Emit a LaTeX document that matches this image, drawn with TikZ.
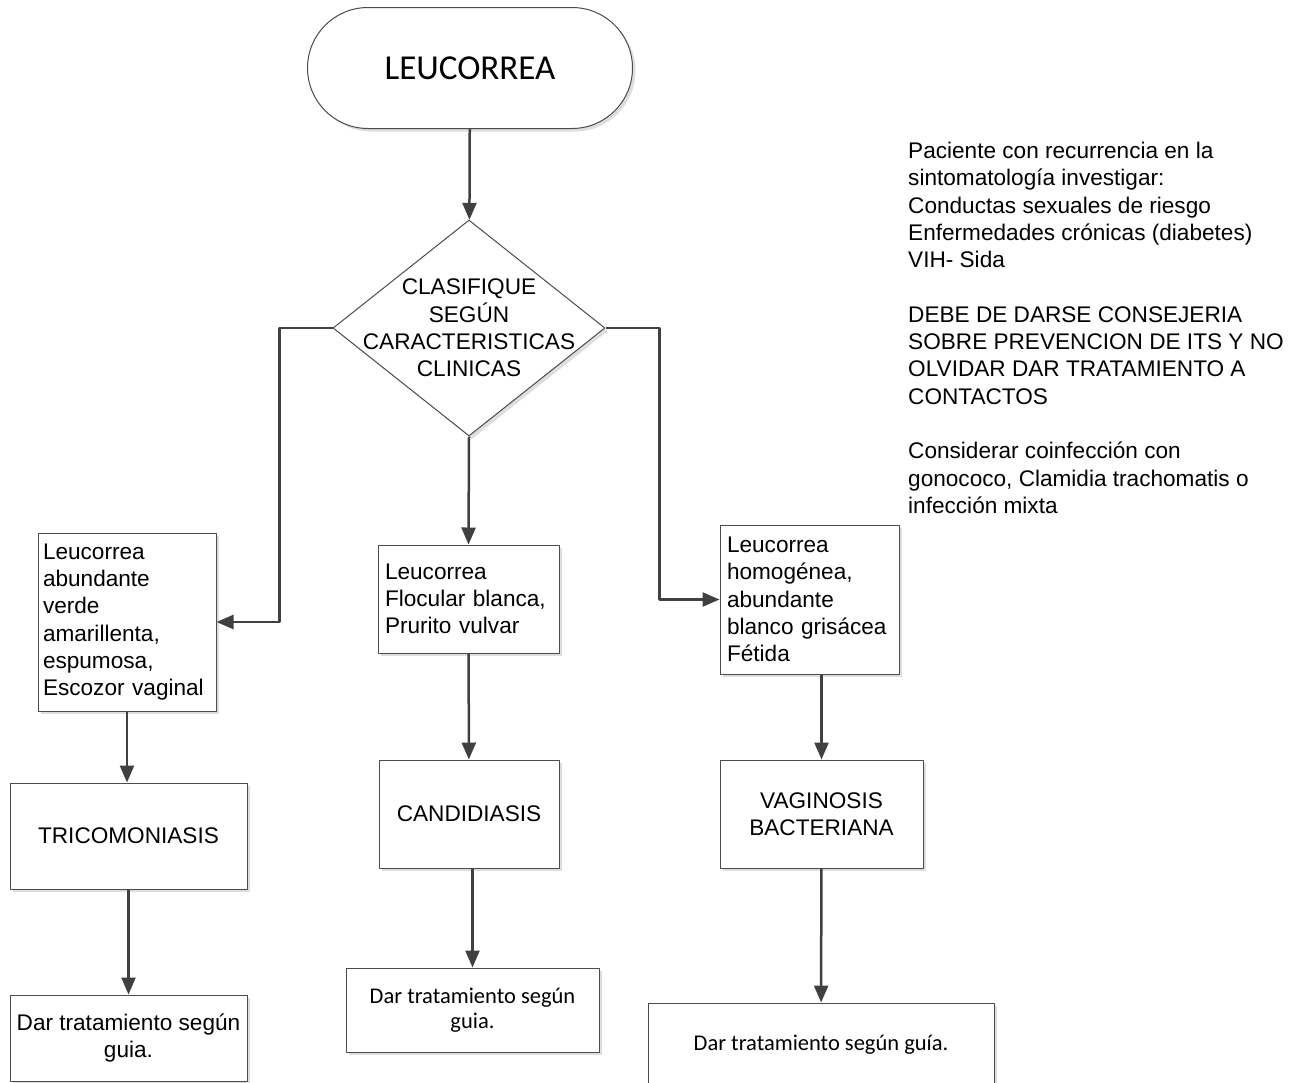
\documentclass[tikz,border=0pt]{standalone}
\usepackage{fontspec}
\setmainfont{Liberation Sans}
\newfontfamily\calibri{Carlito}
\usepackage{tikz}
\usetikzlibrary{arrows.meta,shapes.geometric,shapes.misc,shadows,calc}
\definecolor{linea}{HTML}{404040}

\begin{document}
\begin{tikzpicture}[line cap=round,line join=round,x=1pt,y=-1pt,
  box/.style={draw=black!70,line width=1pt,fill=white,inner sep=0pt,
    drop shadow={shadow xshift=3pt,shadow yshift=-3pt,fill=black!13,opacity=1}},
  txt/.style={font=\fontsize{22.6}{27.3}\selectfont},
  cal/.style={font=\calibri\fontsize{22.5}{25.5}\selectfont},
  flecha/.style={draw=linea,line width=2.5pt,line cap=butt,-{Triangle[length=17pt,width=14pt]}}]
\useasboundingbox (0,0) rectangle (1308,1082);
% inicio y decision
\node[box,rounded rectangle,minimum width=325pt,minimum height=121pt,font=\calibri\fontsize{35}{42}\selectfont] (leuc) at (470,68) {LEUCORREA};
\node[box,diamond,minimum width=272pt,minimum height=216pt,
  label={[txt,align=center]center:CLASIFIQUE\\SEGÚN\\CARACTERISTICAS\\CLINICAS}] (clas) at (469,328) {};
% sintomas
\node[box,txt,minimum width=178pt,minimum height=178pt,text width=168pt,align=left] (tric1) at (127,622) {Leucorrea\\abundante\\verde\\amarillenta,\\espumosa,\\Escozor vaginal};
\node[box,txt,minimum width=181pt,minimum height=108pt,text width=167pt,align=left] (cand1) at (468.5,599) {Leucorrea\\Flocular blanca,\\Prurito vulvar};
\node[box,txt,minimum width=179pt,minimum height=149pt,text width=165pt,align=left] (vag1) at (809.5,599.5) {Leucorrea\\homogénea,\\abundante\\blanco grisácea\\Fétida};
% diagnosticos
\node[box,txt,minimum width=237pt,minimum height=106pt] (tric2) at (128.5,836) {TRICOMONIASIS};
\node[box,txt,minimum width=180pt,minimum height=108pt] (cand2) at (469,814) {CANDIDIASIS};
\node[box,txt,minimum width=203pt,minimum height=108pt,align=center] (vag2) at (821.5,814) {VAGINOSIS\\BACTERIANA};
% tratamiento
\node[box,txt,minimum width=237pt,minimum height=86pt,align=center] (dar1) at (128.5,1038) {Dar tratamiento según\\guia.};
\node[box,cal,minimum width=253pt,minimum height=84pt,align=center] (dar2) at (472.5,1010) {Dar tratamiento según\\guia.};
\node[box,cal,minimum width=346pt,minimum height=84pt] (dar3) at (821,1045) {Dar tratamiento según guía.};
% nota
\node[txt,anchor=north west,align=left,inner sep=0pt] (nota) at (908,142) {Paciente con recurrencia en la\\sintomatología investigar:\\Conductas sexuales de riesgo\\Enfermedades crónicas (diabetes)\\VIH- Sida\\[27.3pt]DEBE DE DARSE CONSEJERIA\\SOBRE PREVENCION DE ITS Y NO\\OLVIDAR DAR TRATAMIENTO A\\CONTACTOS\\[27.3pt]Considerar coinfección con\\gonococo, Clamidia trachomatis o\\infección mixta};
% flechas
\draw[flecha] (leuc) -- (clas);
\draw[flecha] (clas.west) -- ++(-53,0) |- (tric1.east);
\draw[flecha] (clas.east) -- ++(54,0) |- (vag1.west);
\draw[flecha] (clas.south) -- (cand1.north);
\draw[flecha] (tric1.south) -- (tric1.south |- tric2.north);
\draw[flecha] (tric2) -- (dar1);
\draw[flecha] (cand1) -- (cand2);
\draw[flecha] (cand2.south -| dar2.north) -- (dar2.north);
\draw[flecha] (vag1.south -| vag2.north) -- (vag2.north);
\draw[flecha] (vag2) -- (dar3);
\end{tikzpicture}
\end{document}
